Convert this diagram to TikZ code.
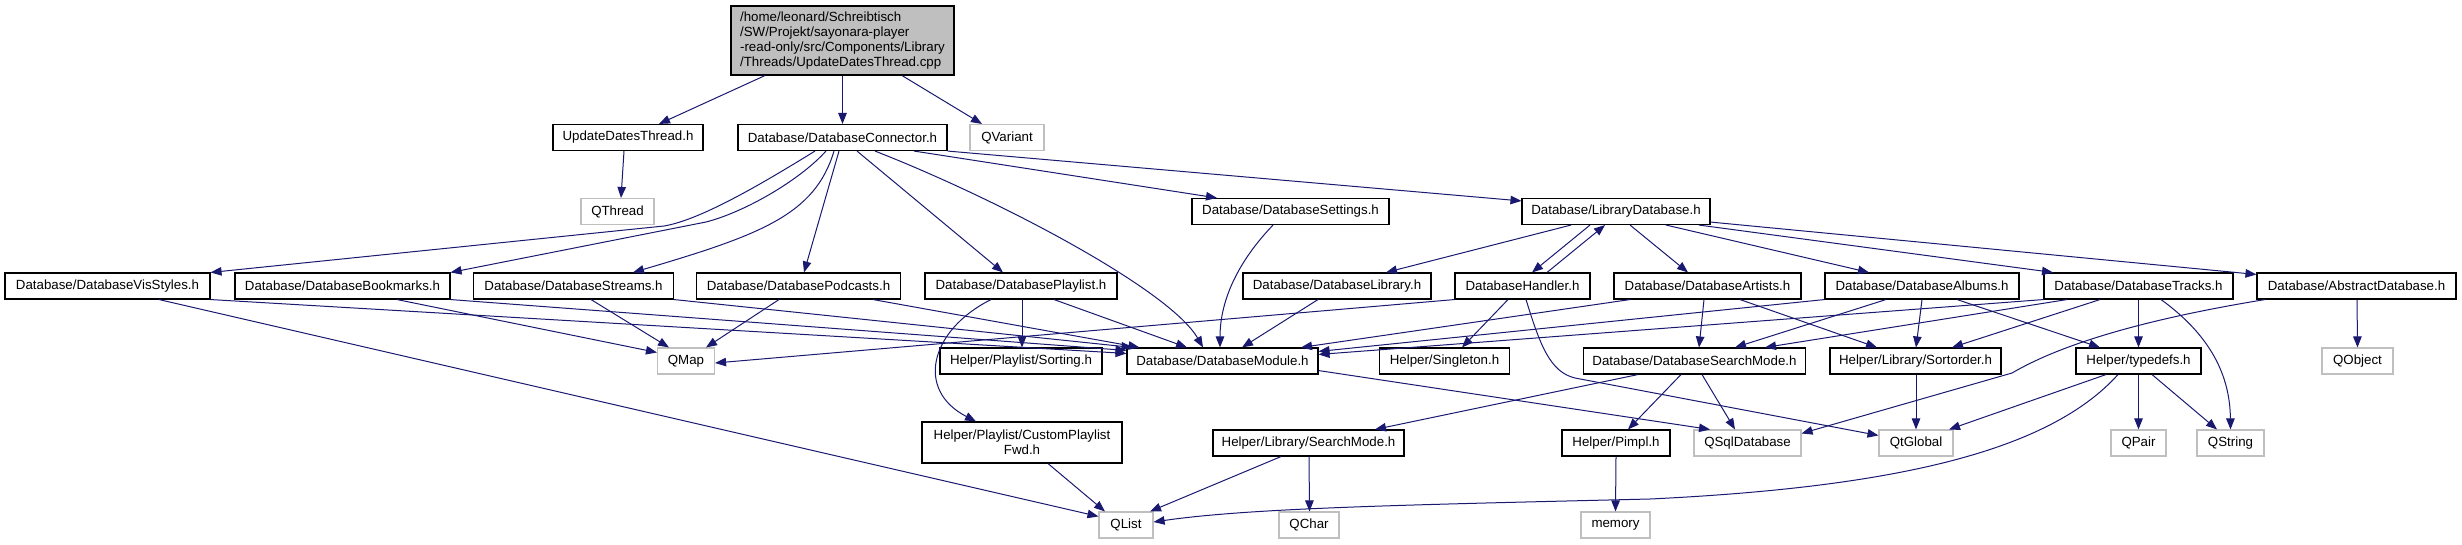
\documentclass[tikz,border=0pt]{standalone}
\usepackage{fontspec}
\setmainfont{Liberation Sans}
\usetikzlibrary{arrows.meta}
\definecolor{edgecol}{RGB}{25,25,112}
\definecolor{greyb}{RGB}{191,191,191}
\begin{document}
\begin{tikzpicture}[x=1pt,y=-1pt,
  every node/.style={font=\fontsize{13.3}{15}\selectfont, inner sep=0pt, minimum height=26pt},
  hdr/.style={draw=black, line width=1.1pt, fill=white},
  ext/.style={draw=greyb, line width=1.1pt, fill=white},
  rootbox/.style={draw=black, line width=1.1pt, fill=greyb, align=left},
  dep/.style={draw=edgecol, line width=1pt, -{Triangle[length=11pt,width=8.5pt]}},
]
\useasboundingbox (0,0) rectangle (2462,544);

% row 0
\node[rootbox, minimum width=223pt, minimum height=69pt] (root) at (842.5,40.5) {/home/leonard/Schreibtisch\\/SW/Projekt/sayonara-player\\-read-only/src/Components/Library\\/Threads/UpdateDatesThread.cpp};
% row 1
\node[hdr, minimum width=150pt] (udt) at (628,137.5) {UpdateDatesThread.h};
\node[hdr, minimum width=209pt] (dbc) at (842.5,137.5) {Database/DatabaseConnector.h};
\node[ext, minimum width=74pt] (qvariant) at (1007,137.5) {QVariant};
% row 2
\node[ext, minimum width=73pt] (qthread) at (617.5,211.5) {QThread};
\node[hdr, minimum width=197pt] (settings) at (1290.5,211.5) {Database/DatabaseSettings.h};
\node[hdr, minimum width=188pt] (libdb) at (1616,211.5) {Database/LibraryDatabase.h};
% row 3
\node[hdr, minimum width=205pt] (visstyles) at (107.5,286) {Database/DatabaseVisStyles.h};
\node[hdr, minimum width=215pt] (bookmarks) at (342.5,286) {Database/DatabaseBookmarks.h};
\node[hdr, minimum width=200pt] (streams) at (573.5,286) {Database/DatabaseStreams.h};
\node[hdr, minimum width=204pt] (podcasts) at (798.5,286) {Database/DatabasePodcasts.h};
\node[hdr, minimum width=192pt] (playlist) at (1021,286) {Database/DatabasePlaylist.h};
\node[hdr, minimum width=188pt] (library) at (1337,286) {Database/DatabaseLibrary.h};
\node[hdr, minimum width=135pt] (handler) at (1522.5,286) {DatabaseHandler.h};
\node[hdr, minimum width=187pt] (artists) at (1707.5,286) {Database/DatabaseArtists.h};
\node[hdr, minimum width=194pt] (albums) at (1922,286) {Database/DatabaseAlbums.h};
\node[hdr, minimum width=189pt] (tracks) at (2138.5,286) {Database/DatabaseTracks.h};
\node[hdr, minimum width=199pt] (abstract) at (2356.5,286) {Database/AbstractDatabase.h};
% row 4
\node[ext, minimum width=57pt] (qmap) at (686,361) {QMap};
\node[hdr, minimum width=162pt] (sorting) at (1021,361) {Helper/Playlist/Sorting.h};
\node[hdr, minimum width=191pt] (module) at (1222.5,361) {Database/DatabaseModule.h};
\node[hdr, minimum width=130pt] (singleton) at (1444.5,361) {Helper/Singleton.h};
\node[hdr, minimum width=222pt] (searchmode) at (1694.5,361) {Database/DatabaseSearchMode.h};
\node[hdr, minimum width=171pt] (sortorder) at (1915.5,361) {Helper/Library/Sortorder.h};
\node[hdr, minimum width=125pt] (typedefs) at (2138.5,361) {Helper/typedefs.h};
\node[ext, minimum width=71pt] (qobject) at (2357.5,361) {QObject};
% row 5
\node[hdr, minimum width=200pt, minimum height=41pt, align=center] (custom) at (1022,442.5) {Helper/Playlist/CustomPlaylist\\Fwd.h};
\node[hdr, minimum width=191pt] (libsearch) at (1308.5,443) {Helper/Library/SearchMode.h};
\node[hdr, minimum width=108pt] (pimpl) at (1616,443) {Helper/Pimpl.h};
\node[ext, minimum width=107pt] (qsql) at (1747.5,443) {QSqlDatabase};
\node[ext, minimum width=74pt] (qtglobal) at (1916,443) {QtGlobal};
\node[ext, minimum width=55pt] (qpair) at (2138.5,443) {QPair};
\node[ext, minimum width=67pt] (qstring) at (2230.5,443) {QString};
% row 6
\node[ext, minimum width=54pt] (qlist) at (1126,525) {QList};
\node[ext, minimum width=60pt] (qchar) at (1309,525) {QChar};
\node[ext, minimum width=69pt] (memory) at (1615.5,525) {memory};

% edges from root
\draw[dep] ([xshift=-77.5pt]root.south) -- ([xshift=31pt]udt.north);
\draw[dep] (root.south) -- (dbc.north);
\draw[dep] ([xshift=59.5pt]root.south) -- ([xshift=-25pt]qvariant.north);
\draw[dep] ([xshift=-4pt]udt.south) -- ([xshift=3.5pt]qthread.north);

% edges from DatabaseConnector
\draw[dep] ([xshift=-27.5pt]dbc.south) .. controls (760,185) and (700,220) .. (664,226) -- (visstyles.north east);
\draw[dep] ([xshift=-16.5pt]dbc.south) .. controls (800,180) and (745,212) .. (706,222) -- (bookmarks.north east);
\draw[dep] ([xshift=-8.5pt]dbc.south) .. controls (815,215) and (760,235) .. ([xshift=59.5pt]streams.north);
\draw[dep] ([xshift=-3.5pt]dbc.south) -- ([xshift=5.5pt]podcasts.north);
\draw[dep] ([xshift=14.5pt]dbc.south) -- ([xshift=-18pt]playlist.north);
\draw[dep] ([xshift=32.5pt]dbc.south) .. controls (1000,200) and (1170,290) .. ([xshift=-19.5pt]module.north);
\draw[dep] ([xshift=71.5pt]dbc.south) -- ([xshift=-73.5pt]settings.north);
\draw[dep] (dbc.south east) -- ([yshift=-3pt]libdb.north west);

\draw[dep] ([xshift=-17.5pt]settings.south) .. controls (1230,270) and (1220,310) .. ([xshift=-2.5pt]module.north);

% edges from LibraryDatabase
\draw[dep] ([xshift=-45pt]libdb.south) -- ([xshift=49pt]library.north);
\draw[dep] ([xshift=-26pt]libdb.south) -- ([xshift=9.5pt]handler.north);
\draw[dep] ([xshift=24.5pt]handler.north) -- ([xshift=-11pt]libdb.south);
\draw[dep] ([xshift=14pt]libdb.south) -- ([xshift=-19.5pt]artists.north);
\draw[dep] ([xshift=50pt]libdb.south) -- ([xshift=-53pt]albums.north);
\draw[dep] ([xshift=83pt]libdb.south) -- ([xshift=-85.5pt]tracks.north);
\draw[dep] ([yshift=3pt]libdb.south east) -- ([yshift=-2pt]abstract.north west);

% row 3 edges
\draw[dep] (visstyles.south east) -- ([yshift=-6pt]module.north west);
\draw[dep] ([xshift=51.5pt]visstyles.south) -- ([yshift=-5pt]qlist.north west);
\draw[dep] ([xshift=54.5pt]bookmarks.south) -- ([yshift=-5pt]qmap.north west);
\draw[dep] (bookmarks.south east) -- ([yshift=-3pt]module.north west);
\draw[dep] ([xshift=17.5pt]streams.south) -- ([xshift=-17pt]qmap.north);
\draw[dep] (streams.south east) -- ([xshift=6pt]module.north west);
\draw[dep] ([xshift=-19.5pt]podcasts.south) -- ([xshift=20pt]qmap.north);
\draw[dep] ([xshift=74.5pt]podcasts.south) -- ([xshift=13pt]module.north west);
\draw[dep] ([xshift=-30pt]playlist.south) .. controls (930,330) and (915,390) .. ([xshift=-46pt]custom.north);
\draw[dep] ([xshift=1pt]playlist.south) -- ([xshift=1pt]sorting.north);
\draw[dep] ([xshift=33pt]playlist.south) -- ([xshift=-35.5pt]module.north);
\draw[dep] ([xshift=-19pt]library.south) -- ([xshift=19.5pt]module.north);
\draw[dep] (handler.south west) -- ([yshift=-2pt]qmap.east);
\draw[dep] ([xshift=-14.5pt]handler.south) -- ([xshift=17.5pt]singleton.north);
\draw[dep] ([xshift=3.5pt]handler.south) .. controls (1540,345) and (1550,372) .. (1575,378) -- ([yshift=-6pt]qtglobal.north west);
\draw[dep] ([xshift=-77.5pt]artists.south) -- ([xshift=78.5pt]module.north);
\draw[dep] ([xshift=-3.5pt]artists.south) -- ([xshift=4.5pt]searchmode.north);
\draw[dep] ([xshift=32.5pt]artists.south) -- ([xshift=-38.5pt]sortorder.north);
\draw[dep] (albums.south west) -- ([yshift=-4pt]module.north east);
\draw[dep] ([xshift=-36pt]albums.south) -- ([xshift=40.5pt]searchmode.north);
\draw[dep] (albums.south) -- ([xshift=0.5pt]sortorder.north);
\draw[dep] ([xshift=35pt]albums.south) -- ([xshift=-38.5pt]typedefs.north);
\draw[dep] (tracks.south west) -- ([yshift=-7pt]module.north east);
\draw[dep] ([xshift=-71.5pt]tracks.south) -- ([xshift=70.5pt]searchmode.north);
\draw[dep] ([xshift=-38.5pt]tracks.south) -- ([xshift=36.5pt]sortorder.north);
\draw[dep] (tracks.south) -- (typedefs.north);
\draw[dep] ([xshift=22.5pt]tracks.south) .. controls (2210,335) and (2230,375) .. (qstring.north);
\draw[dep] ([xshift=0.5pt]abstract.south) -- (qobject.north);
\draw[dep] ([xshift=-91.5pt]abstract.south) .. controls (2140,320) and (2060,345) .. (2012,373) -- ([yshift=-4pt]qsql.north east);

% row 4 edges
\draw[dep] ([yshift=4pt]module.south east) -- ([xshift=-37.5pt]qsql.north);
\draw[dep] ([xshift=-56.5pt]searchmode.south) -- ([xshift=66.5pt]libsearch.north);
\draw[dep] ([xshift=-13.5pt]searchmode.south) -- ([xshift=12pt]pimpl.north);
\draw[dep] ([xshift=7.5pt]searchmode.south) -- ([xshift=-12.5pt]qsql.north);
\draw[dep] ([xshift=0.5pt]sortorder.south) -- (qtglobal.north);
\draw[dep] ([xshift=-32.5pt]typedefs.south) -- ([xshift=33pt]qtglobal.north);
\draw[dep] (typedefs.south) -- (qpair.north);
\draw[dep] ([xshift=13.5pt]typedefs.south) -- ([xshift=-13.5pt]qstring.north);
\draw[dep] ([xshift=-20.5pt]typedefs.south) .. controls (2050,450) and (1900,487) .. (1650,499) .. controls (1400,505) and (1250,508) .. ([yshift=3pt]qlist.east);

% row 5 edges
\draw[dep] ([xshift=26pt]custom.south) -- ([xshift=-21pt]qlist.north);
\draw[dep] ([xshift=-27.5pt]libsearch.south) -- ([xshift=24pt]qlist.north);
\draw[dep] ([xshift=0.5pt]libsearch.south) -- ([xshift=0.5pt]qchar.north);
\draw[dep] (pimpl.south) -- (memory.north);
\end{tikzpicture}
\end{document}
